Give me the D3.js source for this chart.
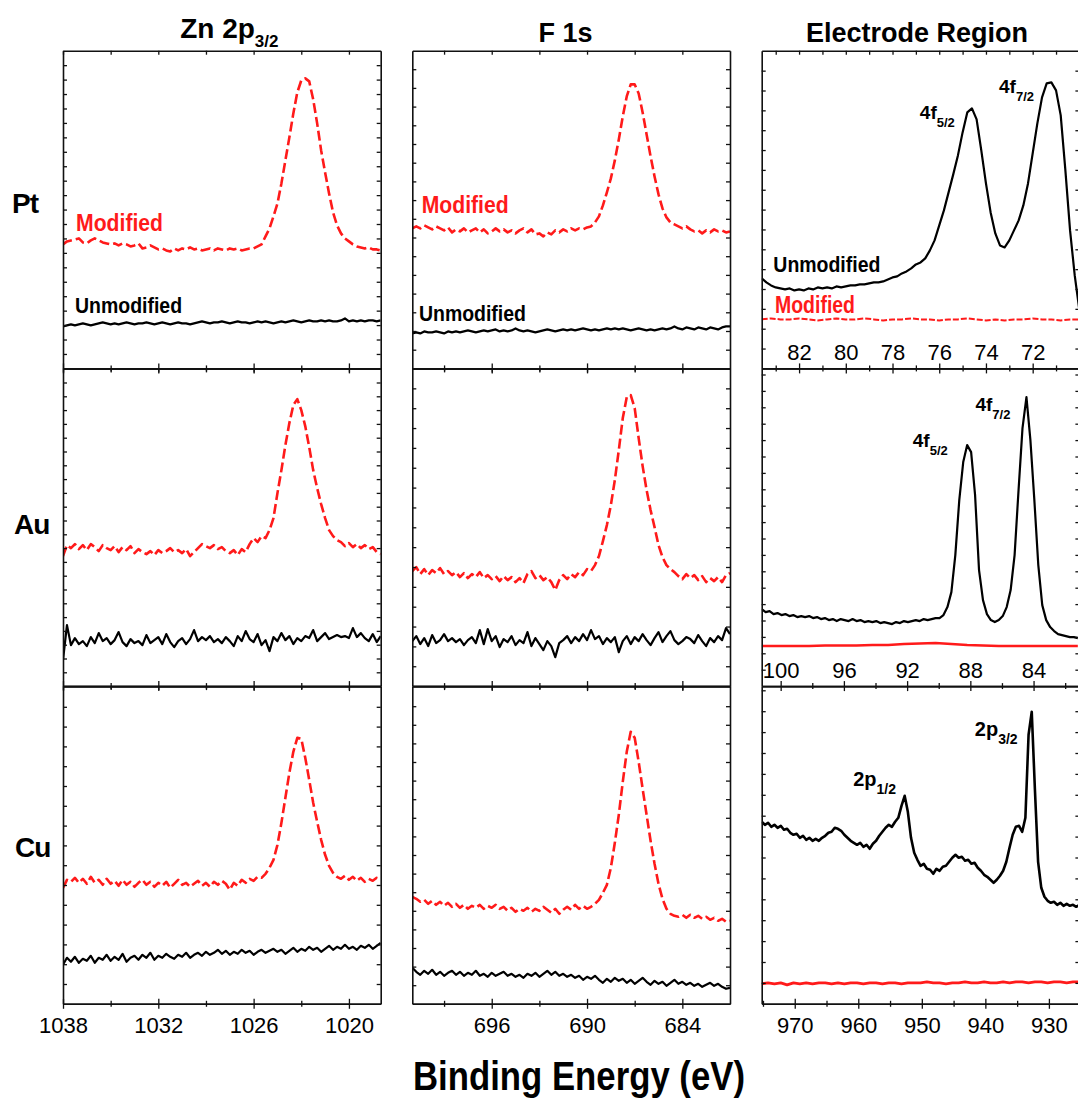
<!DOCTYPE html>
<html>
<head>
<meta charset="utf-8">
<script src="https://cdn.jsdelivr.net/npm/d3@7"></script>
<style>
  body { margin: 0; background: #fff; }
  svg { display: block; font-family: "Liberation Sans", Arial, Helvetica, sans-serif; }
</style>
</head>
<body>
<div id="chart"></div>
<script>
// ---- tick values / axis ranges (binding energy, eV) ----
const znDomain = [1038, 1018], znMajor = [1038, 1032, 1026, 1020], znMinor = [1035, 1029, 1023];
const fDomain = [701, 681], fMajor = [696, 690, 684], fMinor = [699, 693, 687];
const ptDomain = [83.6, 70], ptMajor = [82, 80, 78, 76, 74, 72], ptMinor = [83, 81, 79, 77, 75, 73, 71];
const auDomain = [101.2, 81.1], auMajor = [100, 96, 92, 88, 84], auMinor = [98, 94, 90, 86, 82];
const cuDomain = [975.2, 925.2], cuMajor = [970, 960, 950, 940, 930], cuMinor = [975, 965, 955, 945, 935];

const rowNames = ["Pt", "Au", "Cu"];

// ---- spectra (intensity, a.u.), evenly sampled from the first energy ----
// Zn 2p3/2, 1038 -> 1018 eV, 0.25 eV step
const znPtMod = [124,127,128,129,130,126,125,128,130,128,126,125,124,125,123,125,124,122,123,125,120,121,123,121,119,120,118,117,120,118,120,119,121,119,120,118,119,120,118,120,119,118,120,119,120,118,119,120,
  120,122,124,132,140,152,165,185,208,231,255,276,288,290,287,269,245,218,196,175,156,143,135,130,127,124,122,121,120,121,119,119,118];
const znPtUnmod = [42,43,44,43,44,45,44,43,44,45,46,45,44,45,44,45,46,45,44,45,45,46,45,44,45,46,45,44,45,46,45,45,44,45,46,47,46,45,46,46,47,46,45,46,47,46,46,45,46,47,46,47,46,45,46,47,46,47,48,47,46,47,48,47,47,48,47,48,47,47,48,50,47,48,47,48,47,48,48,47,48];
const znAuMod = [130,141,138,142,137,141,136,142,139,135,141,138,136,140,134,139,136,140,133,137,134,132,135,131,136,133,135,138,134,136,133,137,130,134,138,142,140,138,141,137,139,135,133,136,131,137,134,142,148,144,150,148,156,168,193,216,241,263,281,287,276,260,239,216,198,182,168,156,150,146,144,140,143,139,142,138,141,137,139,134,132];
const znAuUnmod = [26,61,41,48,42,45,40,49,43,53,45,48,42,46,54,44,40,47,43,45,41,51,43,46,49,42,52,44,39,45,48,42,47,56,45,49,46,50,44,47,43,49,45,40,50,45,55,47,44,52,41,46,35,49,45,53,46,50,42,48,45,50,48,56,45,49,53,47,49,51,49,50,48,58,49,53,48,45,52,44,50];
const znCuMod = [116,124,122,126,121,125,120,127,121,124,119,125,120,123,118,124,119,122,117,121,124,119,122,117,121,118,122,116,120,124,119,121,117,120,123,118,121,117,122,119,123,120,114,121,118,124,121,125,123,127,126,130,136,144,159,181,206,231,252,266,265,246,224,201,182,164,149,138,131,127,125,128,124,127,123,126,122,125,123,126,124];
const znCuUnmod = [39,46,42,47,41,45,43,48,41,46,44,49,43,47,44,50,42,46,48,44,49,46,51,44,48,46,50,47,45,49,47,51,46,49,51,48,52,49,51,54,50,53,49,52,50,54,51,53,49,52,54,51,53,55,52,54,50,53,56,52,55,53,57,54,56,52,55,58,54,57,55,59,55,57,54,58,56,59,55,58,61];

// F 1s, 701 -> 681 eV, 0.25 eV step
const fPtMod = [140,142,140,143,141,139,142,140,138,141,136,139,137,140,136,138,140,136,139,135,137,140,137,139,136,138,135,138,140,136,139,134,135,132,136,134,138,136,139,137,140,138,140,139,141,142,146,152,163,176,190,208,229,252,272,284,284,275,256,234,212,192,174,160,151,146,144,142,140,142,139,137,138,135,138,136,139,137,138,136,137];
const fPtUnmod = [35,36,35,37,36,36,37,36,35,37,36,37,36,37,38,37,36,37,38,37,38,39,37,38,37,38,40,38,37,38,37,36,37,38,39,38,37,38,39,38,39,38,39,40,39,38,39,38,39,40,39,40,39,40,39,38,39,40,39,38,39,38,39,40,39,40,42,40,39,41,40,39,41,40,39,41,40,39,41,42,42];
const fAuMod = [115,119,112,117,111,116,113,118,112,115,111,114,109,113,108,112,109,114,108,111,107,110,105,110,106,109,104,108,103,112,115,108,111,106,109,104,96,106,111,107,112,109,114,111,117,115,121,130,145,161,181,206,236,268,289,291,278,248,220,196,176,159,141,129,121,117,114,110,107,112,108,111,106,110,104,108,105,109,104,111,113];
const fAuUnmod = [45,50,42,48,40,51,43,46,52,45,48,44,47,41,46,49,43,56,42,57,45,50,39,47,44,50,41,46,43,54,40,48,42,36,45,40,29,43,46,50,43,49,45,52,46,56,47,50,42,48,44,49,34,45,50,42,49,45,52,46,41,48,54,44,50,55,46,42,45,49,47,43,51,45,40,48,44,50,46,58,52];
const fCuMod = [107,105,102,104,100,103,99,102,98,101,97,100,96,99,95,98,96,99,95,98,96,99,95,97,93,96,92,95,93,96,92,95,93,97,94,91,95,90,94,97,94,99,95,98,95,97,100,104,111,119,136,161,189,222,252,272,266,242,215,189,163,140,120,105,95,90,88,87,89,86,89,86,88,85,87,84,86,83,85,82,83];
const fCuUnmod = [36,32,29,33,30,34,29,32,28,31,33,29,32,28,31,29,33,28,30,27,31,28,30,32,28,30,27,29,26,30,28,31,27,30,33,29,32,28,30,27,29,26,28,24,27,25,28,24,21,25,22,26,23,25,21,24,20,23,26,22,19,23,20,22,18,21,24,20,22,19,21,18,20,17,19,21,18,20,17,15,16];

// Pt 4f, 83.6 -> 70 eV (0.2 eV step unmodified, 0.4 eV modified)
const ptUnmod = [90,86,83,81,80,79,80,78,79,78,80,79,81,80,81,80,82,81,82,83,83,84,84,85,86,86,87,89,91,92,95,97,100,104,106,110,118,128,143,158,176,194,213,236,256,260,249,218,185,156,135,123,121,128,138,148,163,185,215,245,271,285,286,278,253,198,138,93,58];
const ptMod = [49,50,49,49,50,49,48,49,50,49,49,50,49,48,49,49,50,49,49,48,49,49,50,49,48,49,48,49,49,50,49,49,48,49,49];

// Au 4f, 101.2 -> 81.2 eV (0.25 eV step unmodified, 1 eV modified)
const auUnmod = [77,74,75,72,73,71,72,70,71,69,70,69,70,68,69,67,68,66,67,65,67,66,65,67,65,66,64,65,64,65,63,64,63,62,64,63,65,64,65,66,65,67,66,67,68,68,71,79,94,131,186,224,241,234,191,116,86,72,66,64,66,70,79,96,131,196,258,289,246,186,121,81,66,59,55,52,51,50,49,49,48];
const auMod = [40,40,40,40,40.5,40.5,40.5,41,41,42,42.5,43,42,41,40.5,40,40,40,40,40,40];

// Cu 2p, 975.2 -> 925.2 eV (0.5 eV step unmodified, 1 eV modified)
const cuUnmod = [182,179,181,177,179,176,178,174,175,171,169,170,166,168,164,166,163,165,163,166,168,171,172,176,175,173,169,166,163,161,159,161,157,159,155,160,163,168,172,176,179,177,182,186,198,208,192,166,151,144,138,140,135,134,130,135,133,137,138,142,146,149,146,147,143,144,140,141,136,133,129,127,124,121,124,128,133,142,156,169,177,178,172,186,269,292,214,142,116,107,103,101,102,99,101,98,100,98,99,97,99];
const cuMod = [20,21,20,21,19,21,20,21,20,21,21,20,21,20,21,21,20,21,21,20,21,21,20,21,21,21,22,21,21,20,21,21,22,21,21,22,21,21,22,21,22,22,21,22,22,21,22,22,21,22,22];

// ---- layout ----
const W = 1078, H = 1099;
const colLeft = [63, 412.3, 761.7], rowTop = [50.7, 368.4, 686.1];
const PW = 317.7, PH = 317.7;
const RED = "#ff1a1a";

const modZnF = { color: RED, dash: "10,4", width: 2.6 };
const blackLine = { color: "#000", dash: null, width: 2.2 };

const panels = [
  { row: 0, col: 0, domain: znDomain, major: znMajor, minor: znMinor, yStep: 14.44, labels: "none", top: true,
    series: [{ v: znPtMod, start: 1038, step: 0.25, ...modZnF }, { v: znPtUnmod, start: 1038, step: 0.25, ...blackLine }],
    notes: [{ t: "Modified", e: 1037.18, h: 137.7, size: 23, len: 87, color: RED }, { t: "Unmodified", e: 1037.24, h: 55.1, size: 22, len: 107 }] },
  { row: 0, col: 1, domain: fDomain, major: fMajor, minor: fMinor, yStep: 18.7, labels: "none", top: true,
    series: [{ v: fPtMod, start: 701, step: 0.25, ...modZnF }, { v: fPtUnmod, start: 701, step: 0.25, ...blackLine }],
    notes: [{ t: "Modified", e: 700.41, h: 155.1, size: 23, len: 87, color: RED }, { t: "Unmodified", e: 700.58, h: 47.7, size: 22, len: 107 }] },
  { row: 0, col: 2, domain: ptDomain, major: ptMajor, minor: ptMinor, yStep: 19.85, labels: "inside", top: true,
    series: [{ v: ptMod, start: 83.6, step: 0.4, color: RED, dash: "6,2", width: 2 }, { v: ptUnmod, start: 83.6, step: 0.2, ...blackLine }],
    notes: [{ t: "Unmodified", e: 83.10, h: 96.7, size: 22, len: 107 }, { t: "Modified", e: 83.03, h: 55.1, size: 23, len: 80, color: RED },
            { t: "4f", sub: "5/2", e: 76.83, h: 249.1, size: 19 }, { t: "4f", sub: "7/2", e: 73.44, h: 275.1, size: 19 }] },
  { row: 1, col: 0, domain: znDomain, major: znMajor, minor: znMinor, yStep: 13.8, labels: "none", top: true,
    series: [{ v: znAuMod, start: 1038, step: 0.25, ...modZnF }, { v: znAuUnmod, start: 1038, step: 0.25, ...blackLine }], notes: [] },
  { row: 1, col: 1, domain: fDomain, major: fMajor, minor: fMinor, yStep: 19.85, labels: "none", top: true,
    series: [{ v: fAuMod, start: 701, step: 0.25, ...modZnF }, { v: fAuUnmod, start: 701, step: 0.25, ...blackLine }], notes: [] },
  { row: 1, col: 2, domain: auDomain, major: auMajor, minor: auMinor, yStep: 16.4, labels: "inside", top: false,
    series: [{ v: auMod, start: 101.2, step: 1, color: RED, dash: null, width: 2.5 }, { v: auUnmod, start: 101.2, step: 0.25, ...blackLine }],
    notes: [{ t: "4f", sub: "5/2", e: 91.64, h: 238.8, size: 19 }, { t: "4f", sub: "7/2", e: 87.68, h: 275.4, size: 19 }] },
  { row: 2, col: 0, domain: znDomain, major: znMajor, minor: znMinor, yStep: 19.8, labels: "below", top: true,
    series: [{ v: znCuMod, start: 1038, step: 0.25, ...modZnF }, { v: znCuUnmod, start: 1038, step: 0.25, ...blackLine }], notes: [] },
  { row: 2, col: 1, domain: fDomain, major: fMajor, minor: fMinor, yStep: 18.6, labels: "below", top: true,
    series: [{ v: fCuMod, start: 701, step: 0.25, ...modZnF }, { v: fCuUnmod, start: 701, step: 0.25, ...blackLine }], notes: [] },
  { row: 2, col: 2, domain: cuDomain, major: cuMajor, minor: cuMinor, yStep: 20.9, labels: "below", top: false,
    series: [{ v: cuMod, start: 975.2, step: 1, color: RED, dash: null, width: 2.8 }, { v: cuUnmod, start: 975.2, step: 0.5, color: "#000", dash: null, width: 2.6 }],
    notes: [{ t: "2p", sub: "1/2", e: 960.8, h: 217.8, size: 20 }, { t: "2p", sub: "3/2", e: 941.66, h: 267.8, size: 20 }] }
];

const svg = d3.select("#chart").append("svg")
  .attr("width", W).attr("height", H);

panels.forEach((p, k) => {
  const g = svg.append("g").attr("transform", `translate(${colLeft[p.col]},${rowTop[p.row]})`);
  const x = d3.scaleLinear().domain(p.domain).range([0, PW]);
  const y = d3.scaleLinear().domain([0, PH]).range([PH, 0]);

  g.append("clipPath").attr("id", "clip" + k)
    .append("rect").attr("width", PW).attr("height", PH);

  // spectra
  p.series.forEach(s => {
    const line = d3.line()
      .x((d, i) => x(s.start - i * s.step))
      .y(d => y(d));
    g.append("path")
      .datum(s.v)
      .attr("clip-path", `url(#clip${k})`)
      .attr("fill", "none")
      .attr("stroke", s.color)
      .attr("stroke-width", s.width)
      .attr("stroke-linejoin", "round")
      .attr("stroke-dasharray", s.dash)
      .attr("d", line);
  });

  // frame + ticks
  const yTicks = d3.range(p.yStep, PH - 2, p.yStep);
  const styleAxis = sel => {
    sel.select(".domain").attr("stroke", "#111").attr("stroke-width", 1.6);
    sel.selectAll(".tick line").attr("stroke", "#111").attr("stroke-width", 1.3);
  };
  g.append("g").call(d3.axisLeft(y).tickValues(yTicks).tickSize(-4).tickSizeOuter(0).tickFormat(""))
    .call(styleAxis);
  g.append("g").attr("transform", `translate(${PW},0)`)
    .call(d3.axisRight(y).tickValues(yTicks).tickSize(-4).tickSizeOuter(0).tickFormat(""))
    .call(styleAxis);
  if (p.top) {
    g.append("g").call(d3.axisTop(x).tickValues(p.major.concat(p.minor)).tickSize(-4).tickSizeOuter(0).tickFormat(""))
      .call(styleAxis);
  }

  const bottomMinor = g.append("g").attr("transform", `translate(0,${PH})`)
    .call(d3.axisBottom(x).tickValues(p.minor).tickSize(3).tickSizeOuter(0).tickFormat(""))
    .call(styleAxis);
  bottomMinor.selectAll(".tick line").attr("y1", -3);

  const bottomMajor = g.append("g").attr("transform", `translate(0,${PH})`)
    .call(d3.axisBottom(x).tickValues(p.major).tickSize(5).tickSizeOuter(0).tickPadding(9)
      .tickFormat(p.labels === "none" ? "" : d3.format("d")))
    .call(styleAxis);
  bottomMajor.selectAll(".tick line").attr("y1", -5);
  bottomMajor.selectAll(".tick text")
    .attr("fill", "#000")
    .attr("font-size", 22)
    .attr("font-family", "'Liberation Sans', Arial, sans-serif");
  if (p.labels === "inside") {
    bottomMajor.selectAll(".tick text").attr("y", -8).attr("dy", 0);
  }

  // annotations
  p.notes.forEach(n => {
    const t = g.append("text")
      .attr("x", x(n.e)).attr("y", y(n.h))
      .attr("font-size", n.size)
      .attr("font-weight", "bold")
      .attr("fill", n.color || "#000");
    if (n.sub) {
      t.append("tspan").text(n.t);
      t.append("tspan").attr("font-size", Math.round(n.size * 0.68)).attr("dy", 8).text(n.sub);
    } else {
      t.text(n.t).attr("textLength", n.len).attr("lengthAdjust", "spacingAndGlyphs");
    }
  });
});

// column titles
const titles = [
  { main: "Zn 2p", sub: "3/2", cx: colLeft[0] + 166.3, base: 38.3, size: 28 },
  { main: "F 1s", sub: "", cx: colLeft[1] + 153.2, base: 41.7, size: 27 },
  { main: "Electrode Region", sub: "", cx: colLeft[2] + 155.3, base: 41.7, size: 27 }
];
titles.forEach(c => {
  const t = svg.append("text")
    .attr("x", c.cx).attr("y", c.base)
    .attr("text-anchor", "middle")
    .attr("font-size", c.size)
    .attr("font-weight", "bold")
    .attr("fill", "#000");
  t.append("tspan").text(c.main);
  if (c.sub) t.append("tspan").attr("font-size", 17).attr("dy", 9).text(c.sub);
});

// row labels
const rowLabelPos = [{ x: 12, base: 212.7 }, { x: 14, base: 534 }, { x: 15, base: 856.7 }];
rowNames.forEach((name, i) => {
  svg.append("text")
    .attr("x", rowLabelPos[i].x).attr("y", rowLabelPos[i].base)
    .attr("font-size", 28)
    .attr("font-weight", "bold")
    .attr("letter-spacing", -1)
    .attr("fill", "#000")
    .text(name);
});

// x-axis title
svg.append("text")
  .attr("x", 579).attr("y", 1090)
  .attr("text-anchor", "middle")
  .attr("font-size", 40)
  .attr("font-weight", "bold")
  .attr("textLength", 332)
  .attr("lengthAdjust", "spacingAndGlyphs")
  .attr("fill", "#000")
  .text("Binding Energy (eV)");
</script>
</body>
</html>
